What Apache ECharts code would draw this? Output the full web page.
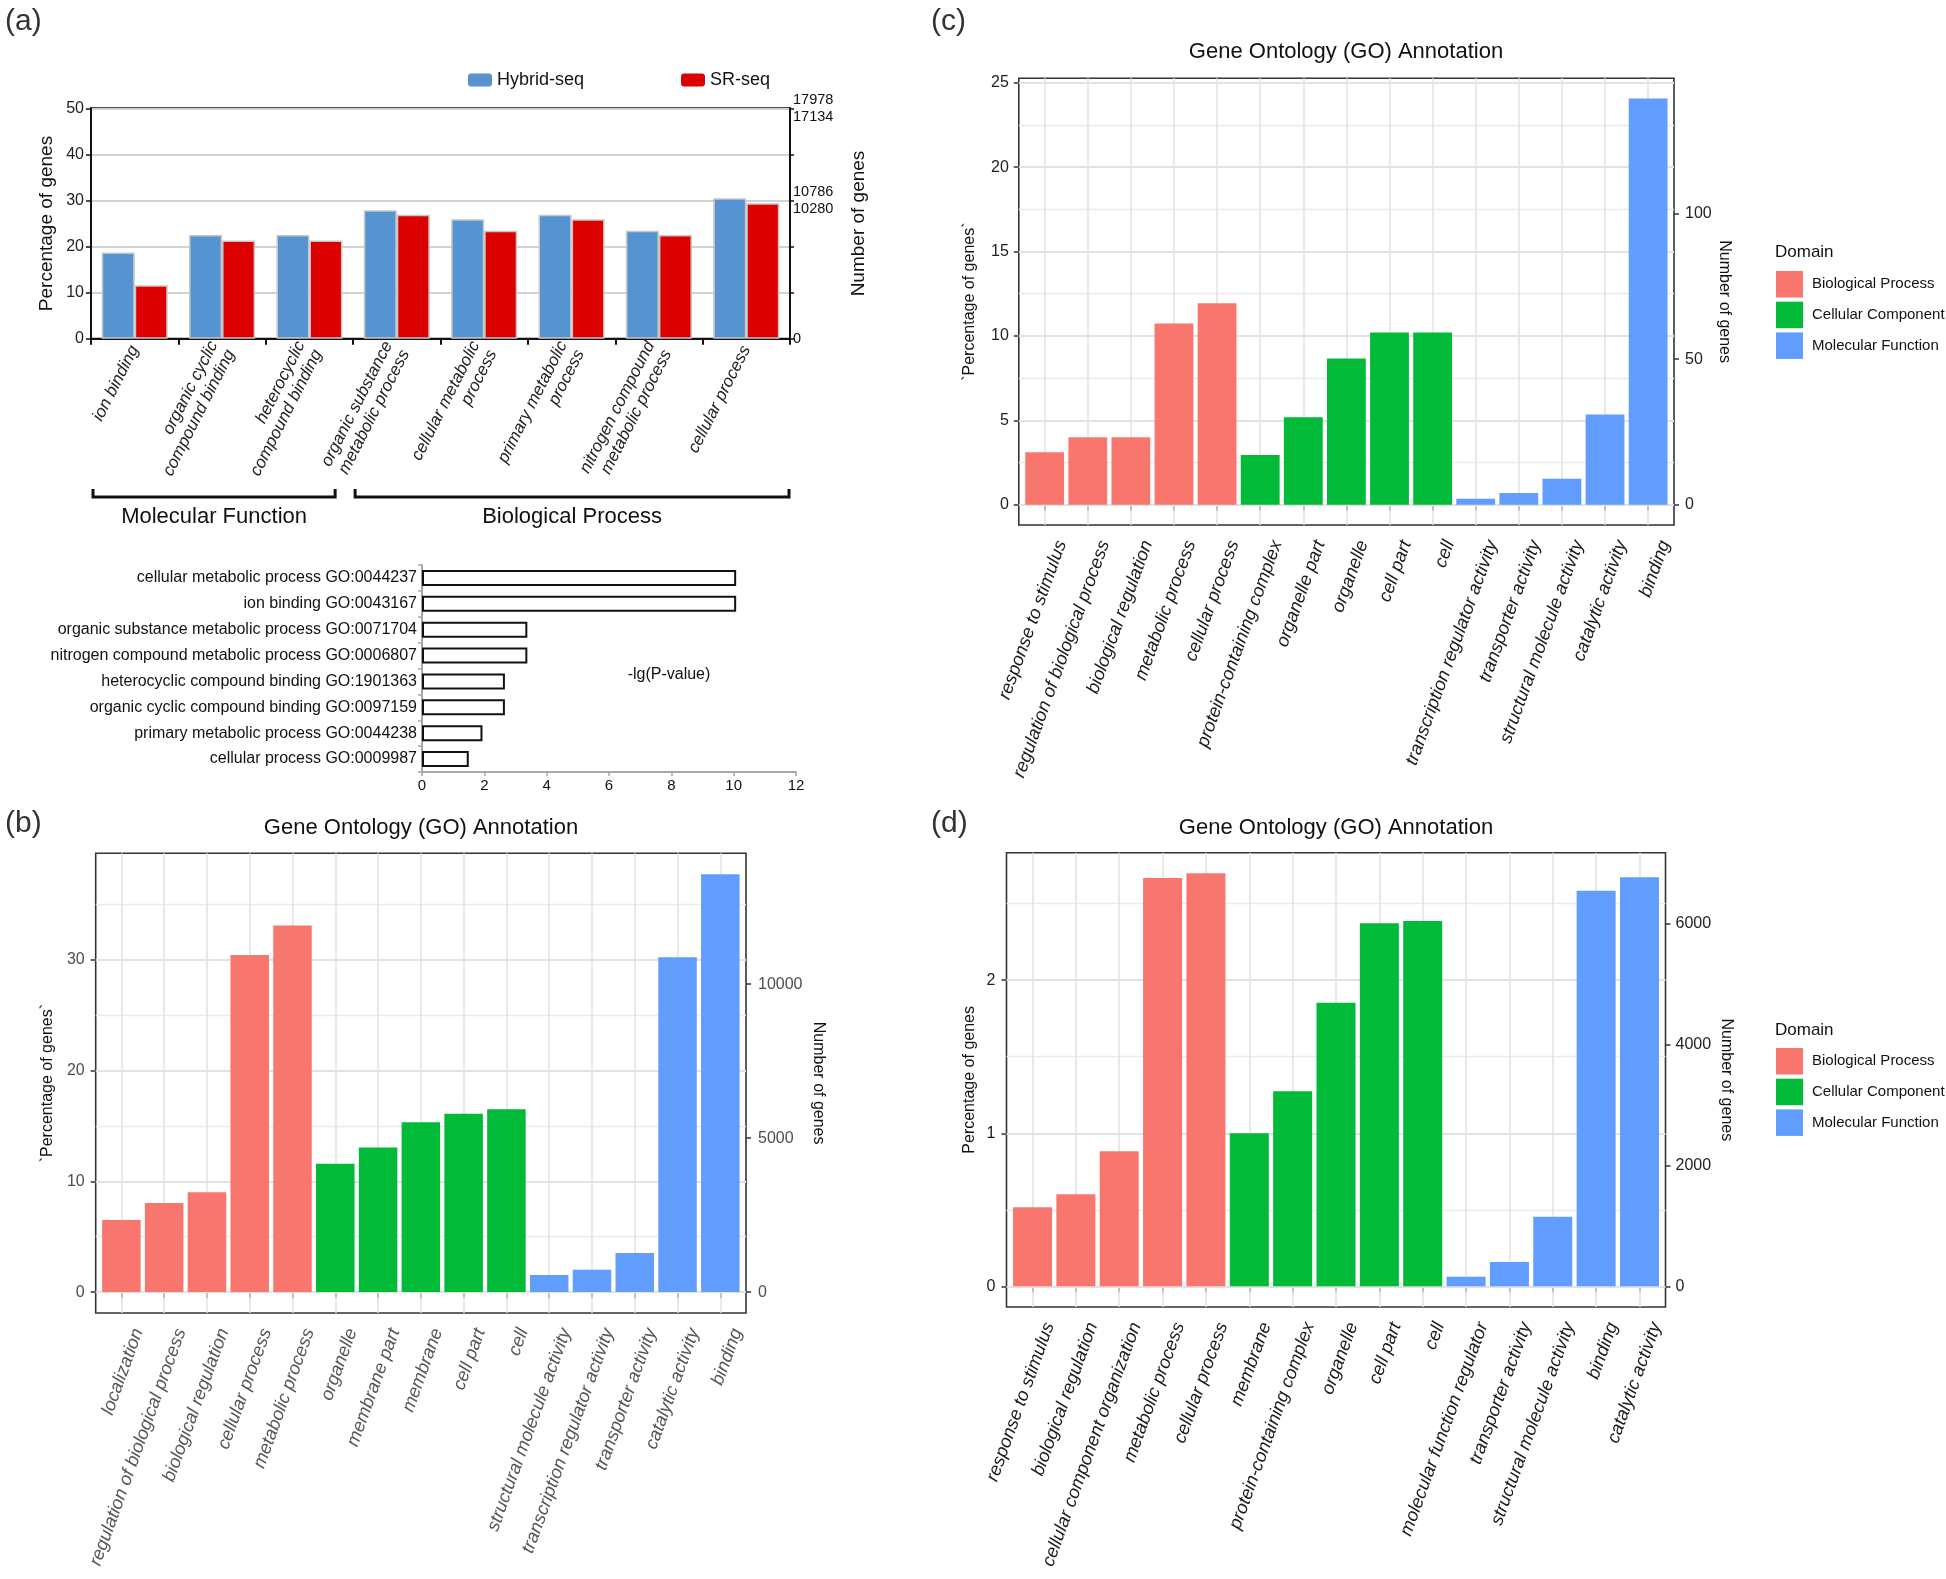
<!DOCTYPE html>
<html><head><meta charset="utf-8">
<script src="https://cdn.jsdelivr.net/npm/echarts@6/dist/echarts.min.js"></script>
<style>html,body{margin:0;padding:0;background:#fff}#c{width:1946px;height:1579px}</style>
</head><body><div id="c"></div>
<script>
// ---------------- DATA ----------------
// (a) upper: percentage of genes per GO term
const aCategories = ['ion binding', 'organic cyclic\ncompound binding', 'heterocyclic\ncompound binding',
  'organic substance\nmetabolic process', 'cellular metabolic\nprocess', 'primary metabolic\nprocess',
  'nitrogen compound\nmetabolic process', 'cellular process'];
const aHybridSeq = [18.7, 22.5, 22.5, 27.9, 25.9, 26.9, 23.4, 30.5];
const aSRSeq = [11.6, 21.3, 21.3, 26.9, 23.4, 25.9, 22.5, 29.4];
const aRightTickValues = [0, 30, 50];
const aRightTickLabels = ['0', '10786\n10280', '17978\n17134'];
const aGroupNames = ['Molecular Function', 'Biological Process'];
const aGroupFrom = [0, 3];
const aGroupTo = [2, 7];

// (a) lower: -lg(P-value)
const pCategories = ['cellular metabolic process GO:0044237', 'ion binding GO:0043167',
  'organic substance metabolic process GO:0071704', 'nitrogen compound metabolic process GO:0006807',
  'heterocyclic compound binding GO:1901363', 'organic cyclic compound binding GO:0097159',
  'primary metabolic process GO:0044238', 'cellular process GO:0009987'];
const pValues = [10.08, 10.08, 3.38, 3.38, 2.66, 2.66, 1.94, 1.5];

const domainCodes = ['BP', 'CC', 'MF'];
const domainNames = ['Biological Process', 'Cellular Component', 'Molecular Function'];
const domainColors = ['#F8766D', '#00BA38', '#619CFF'];

// (b)
const bCategories = ['localization', 'regulation of biological process', 'biological regulation', 'cellular process',
  'metabolic process', 'organelle', 'membrane part', 'membrane', 'cell part', 'cell',
  'structural molecule activity', 'transcription regulator activity', 'transporter activity', 'catalytic activity', 'binding'];
const bValues = [6.5, 8.04, 9.0, 30.4, 33.07, 11.57, 13.04, 15.33, 16.1, 16.5, 1.54, 2.02, 3.52, 30.2, 37.7];
const bDomains = ['BP','BP','BP','BP','BP','CC','CC','CC','CC','CC','MF','MF','MF','MF','MF'];
const bLeftTicks = [0, 10, 20, 30];
const bMinorTicks = [5, 15, 25, 35];
const bRightTicks = [0, 5000, 10000];
const bGenesPerPercent = 360;

// (c)
const cCategories = ['response to stimulus', 'regulation of biological process', 'biological regulation', 'metabolic process',
  'cellular process', 'protein-containing complex', 'organelle part', 'organelle', 'cell part', 'cell',
  'transcription regulator activity', 'transporter activity', 'structural molecule activity', 'catalytic activity', 'binding'];
const cValues = [3.11, 4.0, 4.0, 10.73, 11.93, 2.95, 5.18, 8.66, 10.2, 10.2, 0.35, 0.69, 1.54, 5.35, 24.06];
const cDomains = ['BP','BP','BP','BP','BP','CC','CC','CC','CC','CC','MF','MF','MF','MF','MF'];
const cLeftTicks = [0, 5, 10, 15, 20, 25];
const cMinorTicks = [2.5, 7.5, 12.5, 17.5, 22.5];
const cRightTicks = [0, 50, 100];
const cGenesPerPercent = 5.8;

// (d)
const dCategories = ['response to stimulus', 'biological regulation', 'cellular component organization', 'metabolic process',
  'cellular process', 'membrane', 'protein-containing complex', 'organelle', 'cell part', 'cell',
  'molecular function regulator', 'transporter activity', 'structural molecule activity', 'binding', 'catalytic activity'];
const dValues = [0.517, 0.602, 0.883, 2.667, 2.698, 1.0, 1.274, 1.852, 2.372, 2.387, 0.063, 0.159, 0.454, 2.585, 2.672];
const dDomains = ['BP','BP','BP','BP','BP','CC','CC','CC','CC','CC','MF','MF','MF','MF','MF'];
const dLeftTicks = [0, 1, 2];
const dMinorTicks = [0.5, 1.5, 2.5];
const dRightTicks = [0, 2000, 4000, 6000];
const dGenesPerPercent = 2530;

// ---------------- LAYOUT / STYLE ----------------
const FF = "'Liberation Sans', Arial, Helvetica, sans-serif";
const grids = [], xAxes = [], yAxes = [], series = [], legends = [];

// (a) upper
grids.push({left: 91, top: 108.3, width: 699, height: 230.4, show: true, borderColor: '#111', borderWidth: 2,
  backgroundColor: 'transparent', outerBoundsMode: 'none'});
xAxes.push({type: 'category', gridIndex: 0, data: aCategories,
  axisLine: {show: true, lineStyle: {color: '#111', width: 2}},
  axisTick: {show: true, length: 6, lineStyle: {color: '#111', width: 2}},
  axisLabel: {interval: 0, rotate: 63, fontSize: 17, fontStyle: 'italic', color: '#222', fontFamily: FF, margin: 8, lineHeight: 19},
  splitLine: {show: false}});
yAxes.push({type: 'value', gridIndex: 0, min: 0, max: 50, interval: 10,
  axisLine: {show: true, lineStyle: {color: '#111', width: 2}},
  axisTick: {show: true, length: 5, lineStyle: {color: '#111', width: 1.5}},
  axisLabel: {fontSize: 16, color: '#222', fontFamily: FF, margin: 7},
  splitLine: {show: true, lineStyle: {color: '#d2d2d2', width: 2}},
  name: 'Percentage of genes', nameLocation: 'middle', nameRotate: 90, nameGap: 35,
  nameTextStyle: {fontSize: 19, color: '#111', fontFamily: FF}});
yAxes.push({type: 'value', gridIndex: 0, position: 'right', min: 0, max: 50, interval: 10,
  axisLine: {show: true, lineStyle: {color: '#111', width: 2}},
  axisTick: {show: true, length: 4, lineStyle: {color: '#111', width: 1.5}},
  axisLabel: {fontSize: 14.5, lineHeight: 17, color: '#111', fontFamily: FF, margin: 3,
    formatter: v => { const i = aRightTickValues.indexOf(v); return i >= 0 ? aRightTickLabels[i] : ''; }},
  splitLine: {show: false},
  name: 'Number of genes', nameLocation: 'middle', nameRotate: 90, nameGap: 59,
  nameTextStyle: {fontSize: 19, color: '#111', fontFamily: FF}});
series.push({type: 'bar', name: 'Hybrid-seq', xAxisIndex: 0, yAxisIndex: 0, data: aHybridSeq, barWidth: 33, barGap: '0%',
  itemStyle: {color: '#5593D1', borderColor: '#c6c6c6', borderWidth: 1.5}});
series.push({type: 'bar', name: 'SR-seq', xAxisIndex: 0, yAxisIndex: 0, data: aSRSeq, barWidth: 33, barGap: '0%',
  itemStyle: {color: '#DD0000', borderColor: '#c6c6c6', borderWidth: 1.5}});
legends.push({data: ['Hybrid-seq'], left: 468, top: 71, icon: 'roundRect', itemWidth: 24, itemHeight: 13, padding: 0,
  selectedMode: false, itemStyle: {borderWidth: 0}, textStyle: {fontSize: 18, color: '#111', fontFamily: FF}});
legends.push({data: ['SR-seq'], left: 681, top: 71, icon: 'roundRect', itemWidth: 24, itemHeight: 13, padding: 0,
  selectedMode: false, itemStyle: {borderWidth: 0}, textStyle: {fontSize: 18, color: '#111', fontFamily: FF}});

// (a) lower
grids.push({left: 422, top: 565, width: 374, height: 207, outerBoundsMode: 'none'});
xAxes.push({type: 'value', gridIndex: 1, min: 0, max: 12, interval: 2,
  axisLine: {show: true, lineStyle: {color: '#a8a8a8', width: 2}},
  axisTick: {show: true, length: 4, lineStyle: {color: '#a8a8a8', width: 1.5}},
  axisLabel: {fontSize: 15, color: '#111', fontFamily: FF, margin: 6},
  splitLine: {show: false}});
yAxes.push({type: 'category', gridIndex: 1, inverse: true, data: pCategories,
  axisLine: {show: true, lineStyle: {color: '#a8a8a8', width: 2}},
  axisTick: {show: true, length: 4, lineStyle: {color: '#a8a8a8', width: 1.5}},
  axisLabel: {interval: 0, fontSize: 16, color: '#111', fontFamily: FF, margin: 5}});
series.push({type: 'bar', name: 'p', xAxisIndex: 1, yAxisIndex: 2, data: pValues, barWidth: 16,
  itemStyle: {color: '#fff', borderColor: '#111', borderWidth: 2}});

// GO panels (ggplot style)
function goPanel(P, cats, vals, doms, leftTicks, minorTicks, rightTicks, genesPerPct, leftName, rightName, st) {
  const gi = grids.length, xi = xAxes.length, yl = yAxes.length;
  const maxV = Math.max(...vals);
  const lo = -0.05 * maxV, hi = 1.05 * maxV;
  const pos = cats.map((_, i) => i + 1);
  grids.push({left: P.x0, top: P.y0, width: P.x1 - P.x0, height: P.y1 - P.y0, show: true,
    borderColor: '#333', borderWidth: 1.6, backgroundColor: '#fff', outerBoundsMode: 'none'});
  xAxes.push({type: 'value', gridIndex: gi, min: 0.4, max: cats.length + 0.6,
    axisLine: {show: false}, splitLine: {show: false},
    axisTick: {show: true, customValues: pos, length: 6, lineStyle: {color: '#333', width: 1.5}},
    axisLabel: {show: true, customValues: pos, formatter: v => cats[Math.round(v) - 1] || '',
      rotate: 70, fontSize: 18.3, fontStyle: 'italic', color: st.xColor, fontFamily: FF,
      margin: 10, verticalAlign: 'top', padding: [9, 0, 0, 0]}});
  yAxes.push({type: 'value', gridIndex: gi, position: 'left', min: lo, max: hi,
    axisLine: {show: false}, splitLine: {show: false},
    axisTick: {show: true, customValues: leftTicks, length: 5, lineStyle: {color: '#333', width: 1.5}},
    axisLabel: {customValues: leftTicks, fontSize: 16, color: st.tColor, fontFamily: FF, margin: st.lm,
      formatter: v => String(v)},
    name: leftName, nameLocation: 'middle', nameRotate: 90, nameGap: st.lg,
    nameTextStyle: {fontSize: 16, color: '#111', fontFamily: FF}});
  yAxes.push({type: 'value', gridIndex: gi, position: 'right', min: lo * genesPerPct, max: hi * genesPerPct,
    axisLine: {show: false}, splitLine: {show: false},
    axisTick: {show: true, customValues: rightTicks, length: 5, lineStyle: {color: '#333', width: 1.5}},
    axisLabel: {customValues: rightTicks, fontSize: 16, color: st.tColor, fontFamily: FF, margin: st.rm,
      formatter: v => String(v)},
    name: rightName, nameLocation: 'middle', nameRotate: -90, nameGap: st.rg,
    nameTextStyle: {fontSize: 16, color: '#111', fontFamily: FF}});
  const gl = [];
  minorTicks.forEach(v => gl.push({yAxis: v, lineStyle: {color: '#ebebeb', width: 1.3, type: 'solid'}}));
  leftTicks.forEach(v => gl.push({yAxis: v, lineStyle: {color: '#e2e2e2', width: 2, type: 'solid'}}));
  pos.forEach(v => gl.push({xAxis: v, lineStyle: {color: '#e2e2e2', width: 1.5, type: 'solid'}}));
  series.push({type: 'line', name: 'grid' + gi, xAxisIndex: xi, yAxisIndex: yl, data: [], silent: true,
    markLine: {silent: true, z: 1, symbol: ['none', 'none'], label: {show: false}, emphasis: {disabled: true},
      animation: false, precision: 4, data: gl}});
  domainCodes.forEach((code, d) => {
    series.push({type: 'bar', name: domainNames[d], xAxisIndex: xi, yAxisIndex: yl, barWidth: '90%', barGap: '-100%',
      itemStyle: {color: domainColors[d]},
      data: cats.map((c, i) => doms[i] === code ? [pos[i], vals[i]] : null).filter(v => v)});
  });
}
goPanel({x0: 95.7, y0: 853.3, x1: 746, y1: 1313}, bCategories, bValues, bDomains, bLeftTicks, bMinorTicks, bRightTicks,
  bGenesPerPercent, '`Percentage of genes`', 'Number of genes', {xColor: '#555', tColor: '#4d4d4d', lm: 11, lg: 40, rm: 12, rg: 64});
goPanel({x0: 1018.8, y0: 78.3, x1: 1674, y1: 525}, cCategories, cValues, cDomains, cLeftTicks, cMinorTicks, cRightTicks,
  cGenesPerPercent, '`Percentage of genes`', 'Number of genes', {xColor: '#1a1a1a', tColor: '#222', lm: 10, lg: 41, rm: 11, rg: 42});
goPanel({x0: 1006.5, y0: 852.7, x1: 1665.5, y1: 1307}, dCategories, dValues, dDomains, dLeftTicks, dMinorTicks, dRightTicks,
  dGenesPerPercent, 'Percentage of genes', 'Number of genes', {xColor: '#1a1a1a', tColor: '#222', lm: 11, lg: 29, rm: 10, rg: 53});

[271, 1048].forEach(t => legends.push({data: domainNames, orient: 'vertical', left: 1776, top: t, icon: 'rect',
  itemWidth: 27, itemHeight: 26.5, itemGap: 4.2, padding: 0, selectedMode: false, itemStyle: {borderWidth: 0},
  textStyle: {fontSize: 15, color: '#111', fontFamily: FF, padding: [0, 0, 0, 4]}}));

const chart = echarts.init(document.getElementById('c'), null, {renderer: 'canvas'});
chart.setOption({animation: false, backgroundColor: '#fff', grid: grids, xAxis: xAxes, yAxis: yAxes, series: series, legend: legends});

// ---------------- TEXT ANNOTATIONS ----------------
function txt(x, y, text, size, color, align) {
  return {type: 'text', x: x, y: y, z: 10, silent: true,
    style: {text: text, fill: color, font: size + 'px ' + FF, textAlign: align || 'center', textVerticalAlign: 'middle'}};
}
const g = [];
g.push(txt(5, 22, '(a)', 30, '#333', 'left'));
g.push(txt(5, 824, '(b)', 30, '#333', 'left'));
g.push(txt(931, 22, '(c)', 30, '#333', 'left'));
g.push(txt(931, 824, '(d)', 30, '#333', 'left'));
g.push(txt(421, 828, 'Gene Ontology (GO) Annotation', 22, '#111'));
g.push(txt(1346, 52, 'Gene Ontology (GO) Annotation', 22, '#111'));
g.push(txt(1336, 828, 'Gene Ontology (GO) Annotation', 22, '#111'));
g.push(txt(1775, 252, 'Domain', 17, '#111', 'left'));
g.push(txt(1775, 1030, 'Domain', 17, '#111', 'left'));
g.push(txt(669, 675, '-lg(P-value)', 16, '#111'));
// group brackets under (a) upper
const c0 = chart.convertToPixel({xAxisIndex: 0}, 0), c1 = chart.convertToPixel({xAxisIndex: 0}, 1);
const half = (c1 - c0) / 2;
const insets = [[2, 18], [2, 1]];
aGroupNames.forEach((name, k) => {
  const x0 = chart.convertToPixel({xAxisIndex: 0}, aGroupFrom[k]) - half + insets[k][0];
  const x1 = chart.convertToPixel({xAxisIndex: 0}, aGroupTo[k]) + half - insets[k][1];
  g.push({type: 'polyline', z: 10, silent: true, shape: {points: [[x0, 489], [x0, 497], [x1, 497], [x1, 489]]},
    style: {stroke: '#111', lineWidth: 3, fill: null}});
  g.push(txt((x0 + x1) / 2, 517, name, 22, '#111'));
});
chart.setOption({graphic: g});
</script></body></html>
